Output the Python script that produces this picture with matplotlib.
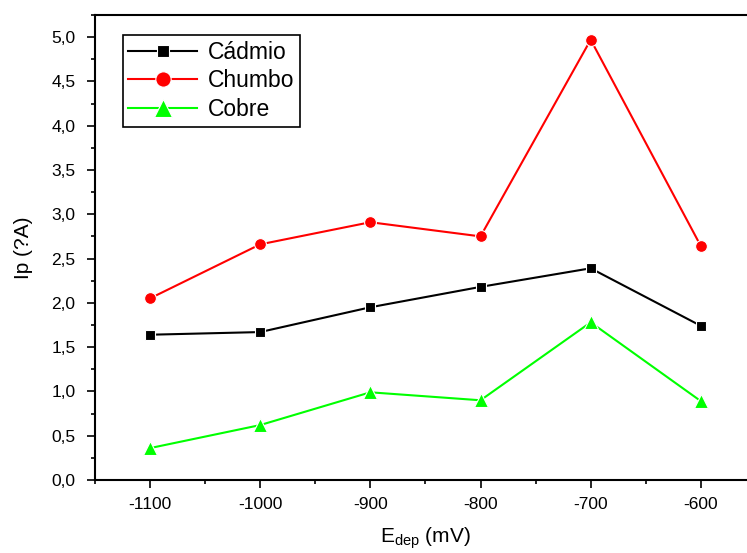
import numpy as np
import matplotlib
matplotlib.use("Agg")
import matplotlib.pyplot as plt
from matplotlib.ticker import MultipleLocator, FuncFormatter

# --- Data ---
e_dep   = [-1100, -1000, -900, -800, -700, -600]
cadmio  = [1.64, 1.67, 1.95, 2.18, 2.39, 1.74]
chumbo  = [2.05, 2.66, 2.91, 2.75, 4.97, 2.64]
cobre   = [0.36, 0.62, 0.99, 0.90, 1.78, 0.89]

plt.rcParams["font.family"] = ["Liberation Sans", "DejaVu Sans"]
plt.rcParams["axes.unicode_minus"] = False

fig = plt.figure(figsize=(7.47, 5.53), dpi=100)
ax = fig.add_axes([0.127, 0.132, 0.885, 0.841])

ax.plot(e_dep, cadmio, color="black", marker="s", ms=6.5, mfc="black",
        mec="white", mew=0.8, lw=1.5, label="Cádmio")
ax.plot(e_dep, chumbo, color="red", marker="o", ms=8.5, mec="white",
        mew=0.8, lw=1.5, label="Chumbo")
ax.plot(e_dep, cobre, color="#00ff00", marker="^", ms=10, mec="white",
        mew=0.8, lw=1.5, label="Cobre")

ax.set_xlim(-1150, -550)
ax.set_ylim(0, 5.25)
ax.xaxis.set_major_locator(MultipleLocator(100))
ax.xaxis.set_minor_locator(MultipleLocator(50))
ax.yaxis.set_major_locator(MultipleLocator(0.5))
ax.yaxis.set_minor_locator(MultipleLocator(0.25))
ax.yaxis.set_major_formatter(FuncFormatter(lambda v, p: f"{v:.1f}".replace(".", ",")))
ax.tick_params(which="both", direction="out", labelsize=12.5, width=1.2)
ax.tick_params(which="major", length=6)
ax.tick_params(axis="x", which="major", pad=6)
ax.tick_params(axis="y", which="major", pad=8)
ax.tick_params(which="minor", length=3)
ax.spines["right"].set_visible(False)
for s in ["left", "bottom", "top"]:
    ax.spines[s].set_linewidth(1.5)

ax.set_xlabel(r"E$_{\mathregular{dep}}$ (mV)", fontsize=15, labelpad=10)
ax.set_ylabel("Ip (?A)", fontsize=15, labelpad=13)

leg = ax.legend(loc="upper left", bbox_to_anchor=(0.042, 0.957), fontsize=16.5,
                frameon=True, fancybox=False, edgecolor="black", framealpha=1,
                handlelength=3.0, borderpad=0.25, labelspacing=0.25,
                handletextpad=0.45, borderaxespad=0, markerscale=1.3)
leg.get_frame().set_linewidth(1.2)

plt.savefig("out.png", dpi=100)
